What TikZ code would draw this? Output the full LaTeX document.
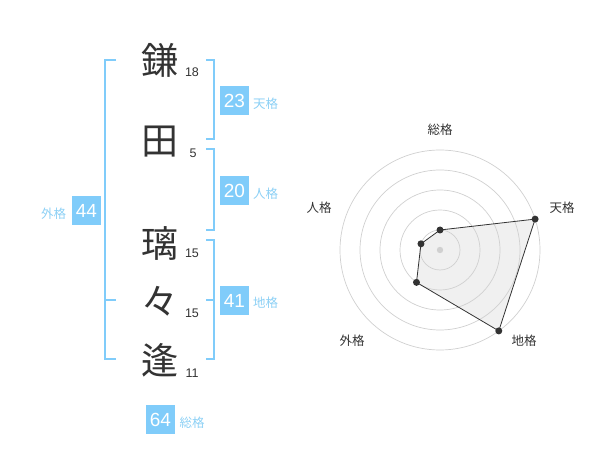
\documentclass[tikz,border=0pt]{standalone}
\usepackage{fontspec}
\setmainfont{Liberation Sans}
\newfontfamily\jpfont{Noto Sans CJK JP}
\definecolor{kakublue}{RGB}{128,204,250}
\definecolor{kakutext}{RGB}{140,208,245}
\definecolor{inkgray}{RGB}{51,51,51}
\definecolor{ringgray}{RGB}{208,208,208}

\begin{document}
\begin{tikzpicture}[x=1pt,y=-1pt,
    kanji/.style={font=\jpfont\fontsize{37}{37}\selectfont, text=inkgray, inner sep=0pt},
    strokes/.style={font=\fontsize{12.5}{13}\selectfont, text=inkgray, inner sep=0pt},
    kakubox/.style={fill=kakublue, text=white, minimum size=29pt, inner sep=0pt, font=\fontsize{19}{19}\selectfont},
    kakuname/.style={text=kakutext, font=\jpfont\fontsize{12.5}{13}\selectfont, inner sep=0pt},
    axisname/.style={text=inkgray, font=\jpfont\fontsize{12.5}{13}\selectfont, inner sep=0pt},
    bracket/.style={draw=kakublue, line width=2pt},
    ring/.style={draw=ringgray, line width=0.7pt}]

      \useasboundingbox (0,0) rectangle (600,470);

      % name and strokes
      \node[kanji] (k1) at (160,60) {鎌};
      \node[kanji] (k2) at (160,142) {田};
      \node[kanji] (k3) at (160,243) {璃};
      \node[kanji] (k4) at (160,301) {々};
      \node[kanji] (k5) at (160,360) {逢};

      \node[strokes] (s1) at (192,72) {18};
      \node[strokes] (s2) at (193,153) {5};
      \node[strokes] (s3) at (192,253) {15};
      \node[strokes] (s4) at (192,313) {15};
      \node[strokes] (s5) at (192,373) {11};

      % brackets
      \draw[bracket] (206,60) -| (214,139) -- (206,139);
      \draw[bracket] (206,149) -| (214,230) -- (206,230);
      \draw[bracket] (206,240) -| (214,359) -- (206,359);
      \draw[bracket] (206,300) -- (214,300);
      \draw[bracket] (116,60) -| (105,359) -- (116,359);
      \draw[bracket] (105,300) -- (116,300);

      \node[kakubox] (ten) at (234.5,100.5) {23};
      \node[kakuname] at (265.5,104) {天格};
      \node[kakubox] (jin) at (234.5,190.5) {20};
      \node[kakuname] at (265.5,194) {人格};
      \node[kakubox] (chi) at (234.5,300.5) {41};
      \node[kakuname] at (265.5,303) {地格};
      \node[kakubox] (gai) at (86.5,210.5) {44};
      \node[kakuname] at (53.5,214) {外格};
      \node[kakubox] (sou) at (160.5,419.5) {64};
      \node[kakuname] at (192,423) {総格};

      % radar
      \begin{scope}[shift={(440,250)}]
        \coordinate (rsou) at (-90:20);
        \coordinate (rten) at (-18:100);
        \coordinate (rchi) at (54:100);
        \coordinate (rgai) at (126:40);
        \coordinate (rjin) at (198:20);

        \fill[black!6] (rsou) -- (rten) -- (rchi) -- (rgai) -- (rjin) -- cycle;
        \foreach \r in {20,40,...,100}
          \draw[ring] (0,0) circle[radius=\r];
        \fill[ringgray] (0,0) circle[radius=3.2];
        \draw[inkgray, line width=0.8pt] (rsou) -- (rten) -- (rchi) -- (rgai) -- (rjin) -- cycle;
        \foreach \p in {rsou,rten,rchi,rgai,rjin}
          \fill[inkgray] (\p) circle[radius=3.5];

        \node[axisname] (lsou) at (0,-120) {総格};
        \node[axisname] (lten) at (122,-42) {天格};
        \node[axisname] (lchi) at (84,91) {地格};
        \node[axisname] (lgai) at (-88,91) {外格};
        \node[axisname] (ljin) at (-121,-42) {人格};
      \end{scope}
    \end{tikzpicture}
\end{document}
